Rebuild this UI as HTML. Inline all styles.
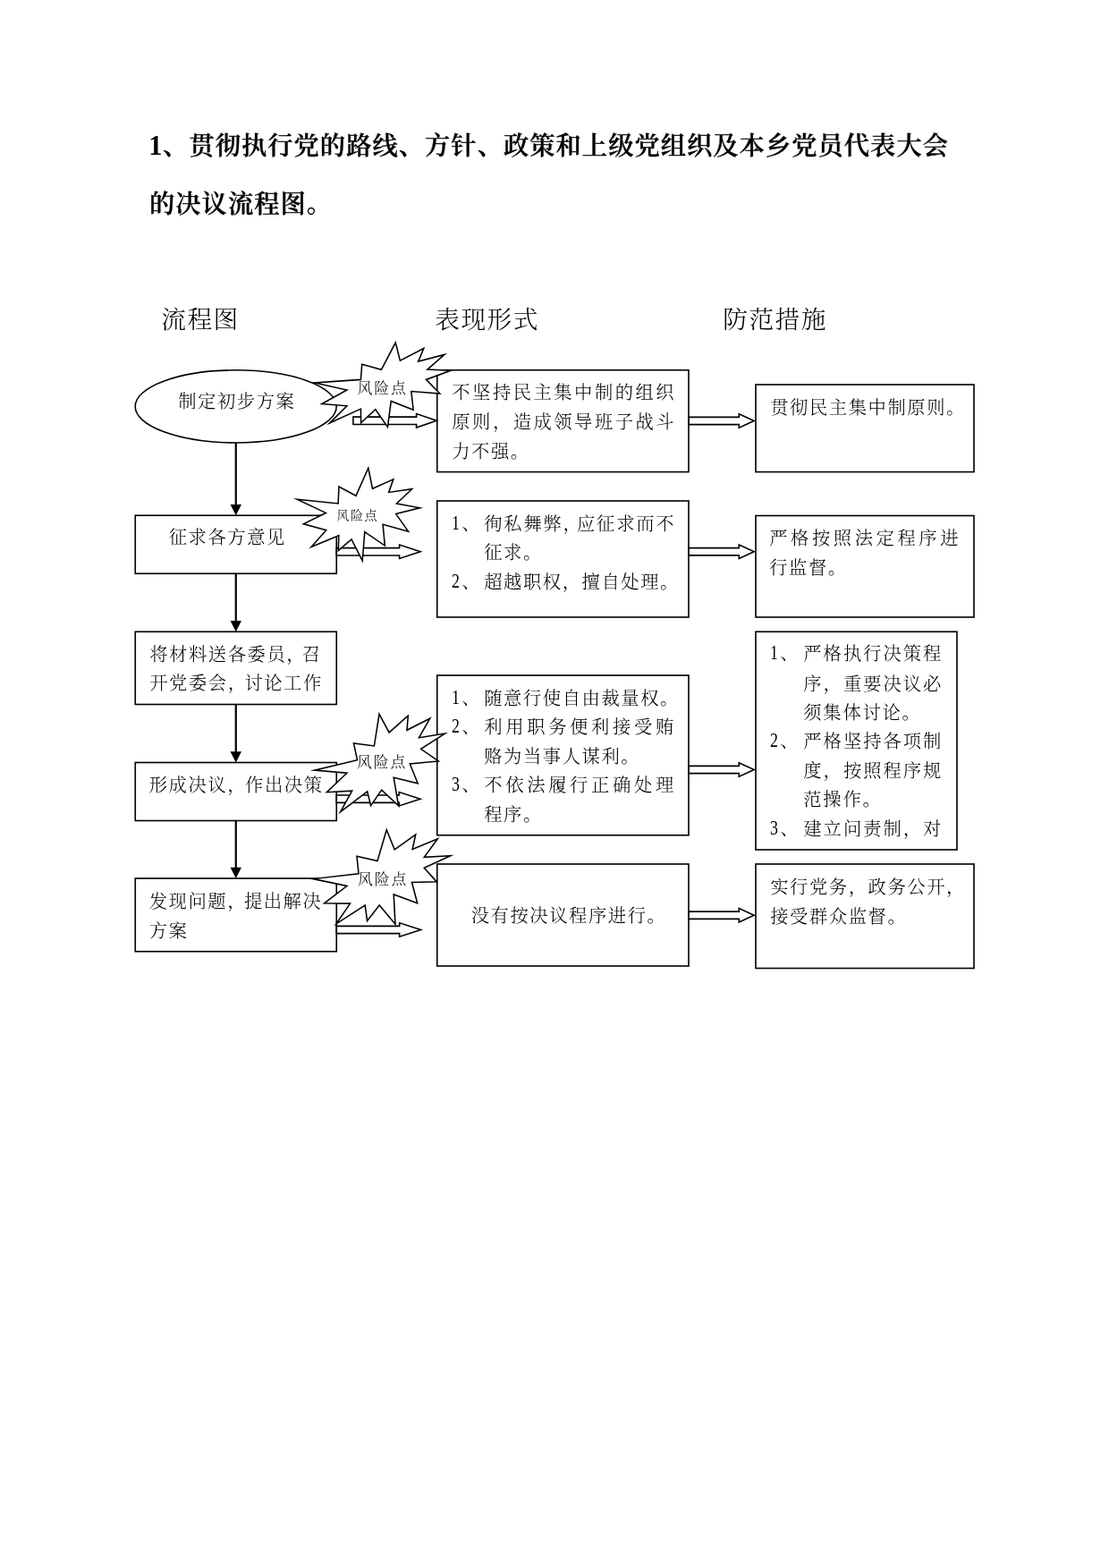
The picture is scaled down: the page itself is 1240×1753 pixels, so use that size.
<!DOCTYPE html>
<html lang="zh-CN">
<head>
<meta charset="utf-8">
<title>贯彻执行党的路线、方针、政策流程图</title>
<style>
html,body{margin:0;padding:0;background:#fff;}
body{width:1240px;height:1753px;position:relative;overflow:hidden;font-family:"Liberation Serif","Noto Serif CJK SC",serif;color:#000;}
.page{position:absolute;left:0;top:0;width:1240px;height:1753px;background:#fff;overflow:hidden;will-change:transform;}
.shapes{position:absolute;left:0;top:0;}
.title{position:absolute;left:167.0px;top:130.5px;margin:0;font-size:28.3px;letter-spacing:1.0px;line-height:65px;font-weight:600;white-space:nowrap;-webkit-text-stroke:0.35px #000;}
.title .n{font-weight:700;-webkit-text-stroke:0;font-size:1.08em;line-height:1;margin-left:-0.8px;letter-spacing:0.6px;}
.t{position:absolute;white-space:nowrap;margin:0;font-weight:300;}
.d{display:inline-block;position:relative;top:-1px;font-size:1.1em;line-height:1;transform:scaleX(0.8);transform-origin:0 50%;margin:0 -1.9px 0 0.2px;}
.b{font-size:20.34px;letter-spacing:1.53px;line-height:32px;height:32px;}
.h{font-size:27.71px;letter-spacing:1.46px;line-height:40px;height:40px;}
.s{font-size:16.88px;letter-spacing:1.87px;line-height:28px;height:28px;}
.xs{font-size:14.07px;letter-spacing:1.56px;line-height:24px;height:24px;}
</style>
</head>
<body>
<div class="page">
<h1 class="title"><span class="n">1</span>、贯彻执行党的路线、方针、政策和上级党组织及本乡党员代表大会<br>的决议流程图。</h1>
<svg class="shapes" width="1240" height="1753" viewBox="0 0 1240 1753" fill="none" stroke="#000" stroke-width="1.62" stroke-linejoin="miter" stroke-miterlimit="10">
<ellipse cx="263.7" cy="454.4" rx="112.5" ry="40.6" stroke-width="1.56"/>
<rect x="151.25" y="576.25" width="225.0" height="65.0"/>
<rect x="151.25" y="706.25" width="225.0" height="81.25"/>
<rect x="151.25" y="852.5" width="225.0" height="65.0"/>
<rect x="151.25" y="982" width="225.0" height="81.75"/>
<rect x="488.75" y="413.75" width="281.25" height="113.85"/>
<rect x="488.75" y="560" width="281.25" height="130"/>
<rect x="488.75" y="755" width="281.25" height="178.75"/>
<rect x="488.75" y="966" width="281.25" height="114"/>
<rect x="845.0" y="430" width="244.0" height="97.6"/>
<rect x="845.0" y="576.5" width="244.0" height="113.5"/>
<rect x="845.0" y="706.25" width="225.0" height="243.75"/>
<rect x="845.0" y="966" width="244.0" height="116.5"/>
<line x1="263.75" y1="495" x2="263.75" y2="564.95" stroke-width="2.2"/><polygon points="257.55,563.95 269.95,563.95 263.75,576.25" fill="#000" stroke="none"/>
<line x1="263.75" y1="641.25" x2="263.75" y2="694.95" stroke-width="2.2"/><polygon points="257.55,693.95 269.95,693.95 263.75,706.25" fill="#000" stroke="none"/>
<line x1="263.75" y1="787.5" x2="263.75" y2="841.2" stroke-width="2.2"/><polygon points="257.55,840.2 269.95,840.2 263.75,852.5" fill="#000" stroke="none"/>
<line x1="263.75" y1="917.5" x2="263.75" y2="970.7" stroke-width="2.2"/><polygon points="257.55,969.7 269.95,969.7 263.75,982" fill="#000" stroke="none"/>
<polygon points="770.0,466.35 826.3,466.35 826.3,462.8 843.1,470.5 826.3,478.2 826.3,474.65 770.0,474.65" stroke-width="1.62"/>
<polygon points="770.0,612.6 826.3,612.6 826.3,609.05 843.1,616.75 826.3,624.45 826.3,620.9 770.0,620.9" stroke-width="1.62"/>
<polygon points="770.0,856.35 826.3,856.35 826.3,852.8 843.1,860.5 826.3,868.2 826.3,864.65 770.0,864.65" stroke-width="1.62"/>
<polygon points="770.0,1019.1 826.3,1019.1 826.3,1015.55 843.1,1023.25 826.3,1030.95 826.3,1027.4 770.0,1027.4" stroke-width="1.62"/>
<polygon points="394.9,466.15 465.6,466.15 465.6,462.6 488.1,470.3 465.6,478.0 465.6,474.45 394.9,474.45" stroke-width="1.62"/>
<polygon points="376.25,612.65 446.6,612.65 446.6,609.1 470.1,616.8 446.6,624.5 446.6,620.95 376.25,620.95" stroke-width="1.62"/>
<polygon points="376.25,889.05 446.2,889.05 446.2,885.5 469.9,893.2 446.2,900.9 446.2,897.35 376.25,897.35" stroke-width="1.62"/>
<polygon points="376.25,1035.35 446.7,1035.35 446.7,1031.8 470.5,1039.5 446.7,1047.2 446.7,1043.65 376.25,1043.65" stroke-width="1.62"/>
<polygon points="442.22,383.02 447.4,403.1 473.77,389.48 467.7,404.1 496.96,396.45 477.9,413.1 503.83,414.26 476.5,424.4 491.72,440.08 459.8,437.5 462.17,458.2 437.3,448.4 433.43,477.4 419.8,457.8 403.64,472.85 403.4,457.1 368.52,473.08 387.9,453.8 359.88,451.49 387.9,436.0 351.87,427.98 403.4,424.4 404.73,407.19 426.4,413.3" fill="#fff" stroke-width="1.56"/>
<polygon points="411.8,523.23 416.5,546.3 439.78,535.86 434.7,550.4 460.65,546.71 443.4,563.0 469.47,567.85 442.7,574.6 456.54,594.13 428.1,586.2 430.32,610.03 407.8,594.6 405.19,626.83 393.0,602.9 378.36,615.46 378.8,598.8 348.06,611.48 364.7,592.7 339.33,585.73 364.3,573.4 332.17,558.15 378.1,563.0 378.97,544.01 398.0,554.3" fill="#fff" stroke-width="1.56"/>
<polygon points="424.04,798.26 435.1,818.9 456.29,800.21 455.0,816.3 480.76,803.2 468.5,824.7 497.49,820.08 470.6,837.3 490.25,850.91 458.3,854.0 467.14,875.79 440.2,869.3 445.59,900.83 426.7,883.1 414.61,900.62 410.7,884.8 380.65,907.69 393.7,884.1 365.4,885.7 387.9,864.2 351.59,861.13 399.5,849.7 395.42,831.0 418.4,834.0" fill="#fff" stroke-width="1.56"/>
<polygon points="432.24,927.73 441.2,949.8 464.7,933.0 461.2,949.4 489.33,937.78 474.3,958.3 503.74,956.83 474.3,970.2 488.28,985.87 460.5,986.4 466.68,1009.75 440.2,999.9 441.98,1033.19 424.2,1012.0 410.57,1029.48 408.2,1012.0 376.01,1032.83 391.5,1010.1 362.6,1009.83 387.9,990.5 350.16,982.6 401.0,976.7 398.99,957.32 422.0,962.6" fill="#fff" stroke-width="1.56"/>
</svg>
<div class="t h" style="left:180.23px;top:338px;letter-spacing:1.46px;">流程图</div>
<div class="t h" style="left:486.23px;top:338px;letter-spacing:1.46px;">表现形式</div>
<div class="t h" style="left:808.23px;top:338px;letter-spacing:1.46px;">防范措施</div>
<div class="t b" style="left:199.27px;top:433px;letter-spacing:1.53px;">制定初步方案</div>
<div class="t b" style="left:188.77px;top:585px;letter-spacing:1.53px;">征求各方意见</div>
<div class="t b" style="left:167.27px;top:716px;letter-spacing:1.53px;">将材料送各委员<span style="margin-right:-4.5px">，</span>召</div>
<div class="t b" style="left:167.27px;top:748px;letter-spacing:1.53px;">开党委会<span style="margin-right:-3.2px">，</span>讨论工作</div>
<div class="t b" style="left:166.77px;top:862px;letter-spacing:1.53px;">形成决议<span style="margin-right:-2px">，</span>作出决策</div>
<div class="t b" style="left:166.77px;top:992px;letter-spacing:1.53px;">发现问题<span style="margin-right:-3.2px">，</span>提出解决</div>
<div class="t b" style="left:166.77px;top:1025px;letter-spacing:1.53px;">方案</div>
<div class="t b" style="left:505.27px;top:423px;letter-spacing:2.48px;">不坚持民主集中制的组织</div>
<div class="t b" style="left:505.27px;top:456px;letter-spacing:2.48px;">原则，造成领导班子战斗</div>
<div class="t b" style="left:505.27px;top:489px;letter-spacing:1.53px;">力不强。</div>
<div class="t b" style="left:505.27px;top:570px;letter-spacing:1.53px;"><span class="d">1</span>、</div>
<div class="t b" style="left:541.27px;top:570px;letter-spacing:1.73px;">徇私舞弊<span style="margin-right:-6.5px">，</span>应征求而不</div>
<div class="t b" style="left:541.27px;top:602px;letter-spacing:1.53px;">征求。</div>
<div class="t b" style="left:505.27px;top:635px;letter-spacing:1.53px;"><span class="d">2</span>、</div>
<div class="t b" style="left:541.27px;top:635px;letter-spacing:1.53px;">超越职权，擅自处理。</div>
<div class="t b" style="left:505.27px;top:765px;letter-spacing:1.53px;"><span class="d">1</span>、</div>
<div class="t b" style="left:541.27px;top:765px;letter-spacing:1.53px;">随意行使自由裁量权。</div>
<div class="t b" style="left:505.27px;top:797px;letter-spacing:1.53px;"><span class="d">2</span>、</div>
<div class="t b" style="left:541.27px;top:797px;letter-spacing:3.63px;">利用职务便利接受贿</div>
<div class="t b" style="left:541.27px;top:830px;letter-spacing:1.53px;">赂为当事人谋利。</div>
<div class="t b" style="left:505.27px;top:862px;letter-spacing:1.53px;"><span class="d">3</span>、</div>
<div class="t b" style="left:541.27px;top:862px;letter-spacing:3.63px;">不依法履行正确处理</div>
<div class="t b" style="left:541.27px;top:895px;letter-spacing:1.53px;">程序。</div>
<div class="t b" style="left:526.77px;top:1008px;letter-spacing:1.53px;">没有按决议程序进行。</div>
<div class="t b" style="left:861.27px;top:440px;letter-spacing:1.53px;">贯彻民主集中制原则。</div>
<div class="t b" style="left:860.27px;top:586px;letter-spacing:3.53px;">严格按照法定程序进</div>
<div class="t b" style="left:860.27px;top:619px;letter-spacing:1.53px;">行监督。</div>
<div class="t b" style="left:861.27px;top:715px;letter-spacing:1.53px;"><span class="d">1</span>、</div>
<div class="t b" style="left:898.27px;top:715px;letter-spacing:1.98px;">严格执行决策程</div>
<div class="t b" style="left:898.27px;top:749px;letter-spacing:1.98px;">序，重要决议必</div>
<div class="t b" style="left:898.27px;top:781px;letter-spacing:1.73px;">须集体讨论。</div>
<div class="t b" style="left:861.27px;top:813px;letter-spacing:1.53px;"><span class="d">2</span>、</div>
<div class="t b" style="left:898.27px;top:813px;letter-spacing:1.98px;">严格坚持各项制</div>
<div class="t b" style="left:898.27px;top:846px;letter-spacing:1.98px;">度，按照程序规</div>
<div class="t b" style="left:898.27px;top:878px;letter-spacing:1.73px;">范操作。</div>
<div class="t b" style="left:861.27px;top:911px;letter-spacing:1.53px;"><span class="d">3</span>、</div>
<div class="t b" style="left:898.27px;top:911px;letter-spacing:1.98px;">建立问责制，对</div>
<div class="t b" style="left:861.27px;top:976px;letter-spacing:1.53px;">实行党务，政务公开，</div>
<div class="t b" style="left:861.27px;top:1009px;letter-spacing:1.53px;">接受群众监督。</div>
<div class="t s" style="left:399.44px;top:421px;letter-spacing:1.87px;">风险点</div>
<div class="t xs" style="left:376.28px;top:564px;letter-spacing:1.56px;">风险点</div>
<div class="t s" style="left:398.94px;top:839px;letter-spacing:1.87px;">风险点</div>
<div class="t s" style="left:399.94px;top:970px;letter-spacing:1.87px;">风险点</div>
</div>
</body>
</html>
